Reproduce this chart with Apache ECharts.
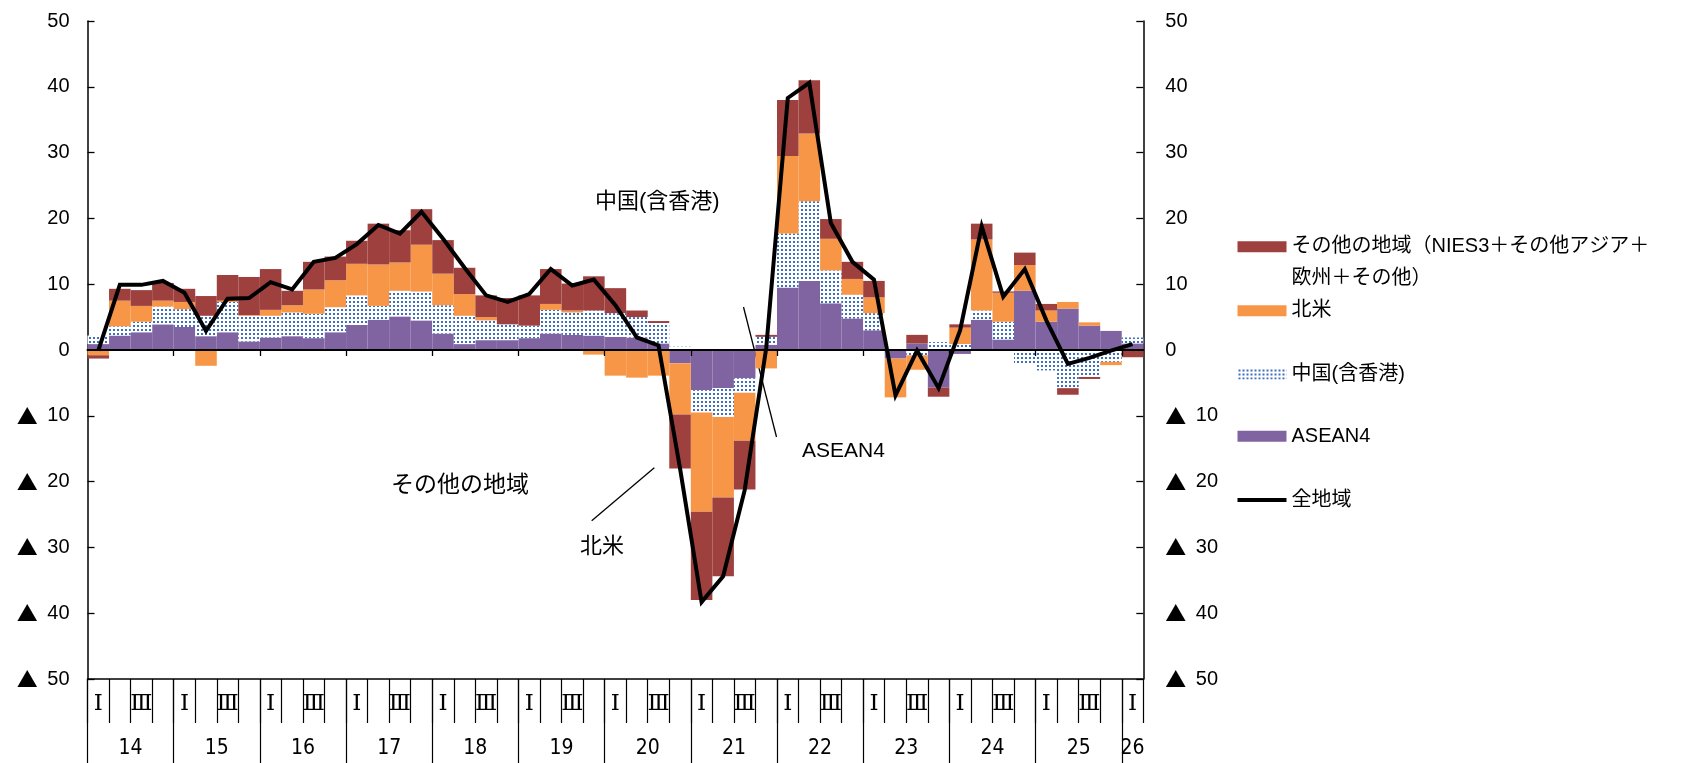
<!DOCTYPE html>
<html>
<head>
<meta charset="utf-8">
<script src="https://cdn.jsdelivr.net/npm/echarts@6/dist/echarts.min.js"></script>
<style>
  html, body { margin: 0; padding: 0; background: #fff; }
  #chart { width: 1700px; height: 763px; }
</style>
</head>
<body>
<div id="chart"></div>
<script>
// Year labels along the bottom and how many quarters each year contributes
const yearLabels = ['14', '15', '16', '17', '18', '19', '20', '21', '22', '23', '24', '25', '26'];
const quartersPerYear = [4, 4, 4, 4, 4, 4, 4, 4, 4, 4, 4, 4, 1];
const quarterMarks = ['Ⅰ', '', 'Ⅲ', ''];

// Contributions by region (%pt), 2014 Q1 – 2026 Q1
const asean4 = [
  0.9, 2.2, 2.7, 3.9,   3.5, 2.1, 2.7, 1.3,   1.9, 2.1, 1.8, 2.7,   3.8, 4.6, 5.1, 4.5,
  2.5, 0.9, 1.5, 1.5,   1.8, 2.5, 2.3, 2.2,   2.0, 1.9, 1.0, -2.0,  -6.1, -5.8, -4.3, 0.8,
  9.5, 10.5, 7.1, 4.8,  3.0, -1.3, 1.0, -5.7, -0.6, 4.6, 1.6, 9.0,  4.3, 6.3, 3.7, 2.9,
  1.0
];
const china = [
  1.3, 1.4, 1.6, 2.7,   2.7, 3.1, 4.6, 3.9,   3.3, 3.6, 3.7, 3.8,   4.5, 2.1, 3.9, 4.4,
  4.3, 4.3, 3.0, 2.4,   1.9, 3.6, 3.4, 3.8,   3.6, 3.1, 3.1, 0.5,   -3.4, -4.4, -2.2, 1.2,
  8.2, 12.1, 5.0, 3.6,  2.6, 0, -0.8, 1.2,    0.9, 1.4, 2.7, -2.0,  -3.1, -5.8, -4.1, -1.8,
  0.9
];
const northAmerica = [
  -0.8, 3.9, 2.4, 0.9,  1.1, -2.4, 0.2, 0.1,  0.9, 1.1, 3.7, 4.1,   4.8, 6.3, 4.3, 7.1,
  4.8, 3.3, 0.5, 0,     0, 0.9, 0.3, -0.7,    -3.9, -4.2, -3.9, -7.8, -15.1, -12.2, -7.3, -2.8,
  11.8, 10.3, 4.8, 2.4, 2.4, -5.9, -2.2, 0,   2.5, 10.8, 4.4, 3.9,  1.7, 1.0, 0.5, -0.5,
  0
];
const otherRegions = [
  -0.5, 1.8, 2.4, 2.7,  2.0, 3.0, 3.9, 5.8,   6.2, 2.2, 4.2, 3.6,   3.5, 6.2, 4.9, 5.4,
  5.1, 4.0, 3.3, 4.0,   4.6, 5.3, 4.1, 5.2,   3.8, 1.0, 0.3, -8.2,  -13.4, -12.0, -7.4, 0.3,
  8.5, 8.1, 3.0, 2.6,   2.5, 0, 1.3, -1.4,    0.5, 2.4, 0.2, 1.9,   1.0, -1.0, -0.3, 0,
  -1.1
];
const allRegions = [
  -0.1, 9.9, 9.9, 10.5, 8.7, 2.9, 7.8, 7.9,   10.3, 9.2, 13.4, 14.0, 16.1, 19.0, 17.7, 21.0,
  16.9, 12.5, 8.3, 7.3, 8.5, 12.3, 9.8, 10.7, 6.8, 1.9, 0.7, -18.0,  -38.3, -34.4, -21.3, 0.3,
  38.3, 40.6, 19.3, 13.4, 10.7, -6.9, -0.1, -5.8, 3.0, 18.8, 8.1, 12.3, 4.5, -2.1, -1.2, -0.1,
  0.9
];

const seriesNames = {
  other: 'その他の地域（NIES3＋その他アジア＋欧州＋その他）',
  na: '北米',
  china: '中国(含香港)',
  asean: 'ASEAN4',
  all: '全地域'
};

// Quarter categories built from the year list
const categories = [];
yearLabels.forEach((y, i) => {
  for (let q = 0; q < quartersPerYear[i]; q++) categories.push(y + 'Q' + (q + 1));
});
const nQuarters = categories.length;

// Year boundaries and year-label positions on the 0..nQuarters scale
const yearTicks = [];
const yearLabelPos = [];
let acc = 0;
quartersPerYear.forEach(n => {
  yearTicks.push(acc);
  yearLabelPos.push(acc + n / 2);
  acc += n;
});
const zeroLineTicks = yearTicks.slice(1);

// Blue dot fill for the China series
function dotPattern() {
  const c = document.createElement('canvas');
  c.width = 4; c.height = 4;
  const g = c.getContext('2d');
  g.fillStyle = '#ffffff';
  g.fillRect(0, 0, 4, 4);
  g.fillStyle = '#3b6fc1';
  g.fillRect(1, 1, 2, 2);
  return c;
}

const C_RED = '#9d403e';
const C_ORANGE = '#f79646';
const C_PURPLE = '#8064a2';
const LATIN = "'Liberation Sans', 'Noto Sans CJK JP', sans-serif";
const CJK = "'Noto Sans CJK JP', sans-serif";

const chart = echarts.init(document.getElementById('chart'), null, { renderer: 'canvas' });

function barSeries(name, data, color) {
  return {
    name, type: 'bar', data, stack: 'regions',
    xAxisIndex: 0, yAxisIndex: 0,
    barCategoryGap: '0%',
    itemStyle: { color },
    emphasis: { disabled: true },
    z: 2
  };
}

function legendAt(name, top, opts) {
  return Object.assign({
    data: [name], left: 1237.5, top, orient: 'vertical', padding: 0,
    itemWidth: 49, itemHeight: 11, selectedMode: false,
    textStyle: { fontFamily: LATIN, fontSize: 20, color: '#000', lineHeight: 22 }
  }, opts || {});
}

// Negative values are written with a leading triangle
const yLabel = v => (v < 0 ? '{tri|▲} ' + (-v) : String(v));
const yRich = { tri: { fontFamily: CJK, fontSize: 21, color: '#000', padding: [0, 4, 0, 0] } };

const option = {
  backgroundColor: '#fff',
  animation: false,
  grid: { left: 87.5, right: 556.7, top: 21, bottom: 84, containLabel: false },
  xAxis: [
    {
      // quarter axis carrying the data; drawn along the bottom frame
      type: 'category', data: categories, position: 'bottom',
      boundaryGap: true,
      axisLine: { onZero: false, lineStyle: { color: '#000', width: 1.5 } },
      axisTick: { show: true, interval: 0, length: 44, lineStyle: { color: '#000', width: 1.2 } },
      axisLabel: {
        interval: 0, margin: 14, fontFamily: "'DejaVu Serif', 'Noto Sans CJK JP', serif",
        fontSize: 23, color: '#000',
        formatter: (v, i) => quarterMarks[i % 4]
      },
      splitLine: { show: false }
    },
    {
      // year separators and year labels
      type: 'value', min: 0, max: nQuarters, position: 'bottom',
      axisLine: { show: false, onZero: false },
      axisTick: { show: true, customValues: yearTicks, length: 84, lineStyle: { color: '#000', width: 1.2 } },
      axisLabel: {
        customValues: yearLabelPos, margin: 59,
        fontFamily: "'Liberation Sans Narrow', 'DejaVu Sans Condensed', 'Liberation Sans', sans-serif",
        fontSize: 21, color: '#000',
        formatter: v => yearLabels[Math.floor(v / 4)]
      },
      splitLine: { show: false }
    },
    {
      // zero line with year ticks
      type: 'value', min: 0, max: nQuarters, position: 'bottom', z: 10,
      axisLine: { show: true, onZero: true, onZeroAxisIndex: 0, lineStyle: { color: '#000', width: 2 } },
      axisTick: { show: true, customValues: zeroLineTicks, length: 6, lineStyle: { color: '#000', width: 1.3 } },
      axisLabel: { show: false },
      splitLine: { show: false }
    }
  ],
  yAxis: [
    {
      type: 'value', min: -50, max: 50, interval: 10, position: 'left',
      axisLine: { show: true, onZero: false, lineStyle: { color: '#000', width: 1.5 } },
      axisTick: { show: true, inside: true, length: 7, lineStyle: { color: '#000', width: 1.3 } },
      axisLabel: { margin: 18, fontFamily: LATIN, fontSize: 20, color: '#000', formatter: yLabel, rich: yRich },
      splitLine: { show: false }
    },
    {
      type: 'value', min: -50, max: 50, interval: 10, position: 'right',
      axisLine: { show: true, onZero: false, lineStyle: { color: '#000', width: 1.5 } },
      axisTick: { show: true, inside: true, length: 7, lineStyle: { color: '#000', width: 1.3 } },
      axisLabel: { margin: 22, fontFamily: LATIN, fontSize: 20, color: '#000', formatter: yLabel, rich: yRich },
      splitLine: { show: false }
    }
  ],
  legend: [
    legendAt(seriesNames.other, 246.7 - 47.5, {
      icon: 'rect',
      textStyle: { fontFamily: LATIN, fontSize: 20, color: '#000', lineHeight: 31.7 },
      formatter: () => '\nその他の地域（NIES3＋その他アジア＋\n欧州＋その他）'
    }),
    legendAt(seriesNames.na, 310.7 - 11, { icon: 'rect' }),
    legendAt(seriesNames.china, 374 - 11, { icon: 'rect' }),
    legendAt(seriesNames.asean, 436.3 - 11, { icon: 'rect' }),
    legendAt(seriesNames.all, 500 - 11, {
      icon: 'path://M0,0 L49,0 L49,4 L0,4 Z', itemHeight: 4
    })
  ],
  series: [
    barSeries(seriesNames.asean, asean4, C_PURPLE),
    barSeries(seriesNames.china, china, { image: dotPattern(), repeat: 'repeat' }),
    barSeries(seriesNames.na, northAmerica, C_ORANGE),
    barSeries(seriesNames.other, otherRegions, C_RED),
    {
      name: seriesNames.all, type: 'line', data: allRegions,
      xAxisIndex: 0, yAxisIndex: 0,
      symbol: 'none', z: 5,
      lineStyle: { color: '#000', width: 4, join: 'miter' },
      itemStyle: { color: '#000' },
      emphasis: { disabled: true }
    }
  ],
  graphic: [
    { type: 'text', left: 595, top: 191, style: { text: '中国(含香港)', font: "22px " + LATIN, fill: '#000' } },
    { type: 'text', left: 391, top: 472, style: { text: 'その他の地域', font: "23px " + CJK, fill: '#000' } },
    { type: 'text', left: 580, top: 534, style: { text: '北米', font: "22px " + CJK, fill: '#000' } },
    { type: 'text', left: 802, top: 441, style: { text: 'ASEAN4', font: "21px " + LATIN, fill: '#000' } },
    { type: 'line', shape: { x1: 654.3, y1: 467.7, x2: 591.7, y2: 520.7 }, style: { stroke: '#000', lineWidth: 1.3 } },
    { type: 'line', shape: { x1: 743.5, y1: 307, x2: 776.5, y2: 437 }, style: { stroke: '#000', lineWidth: 1.3 } }
  ]
};

chart.setOption(option);
</script>
</body>
</html>
